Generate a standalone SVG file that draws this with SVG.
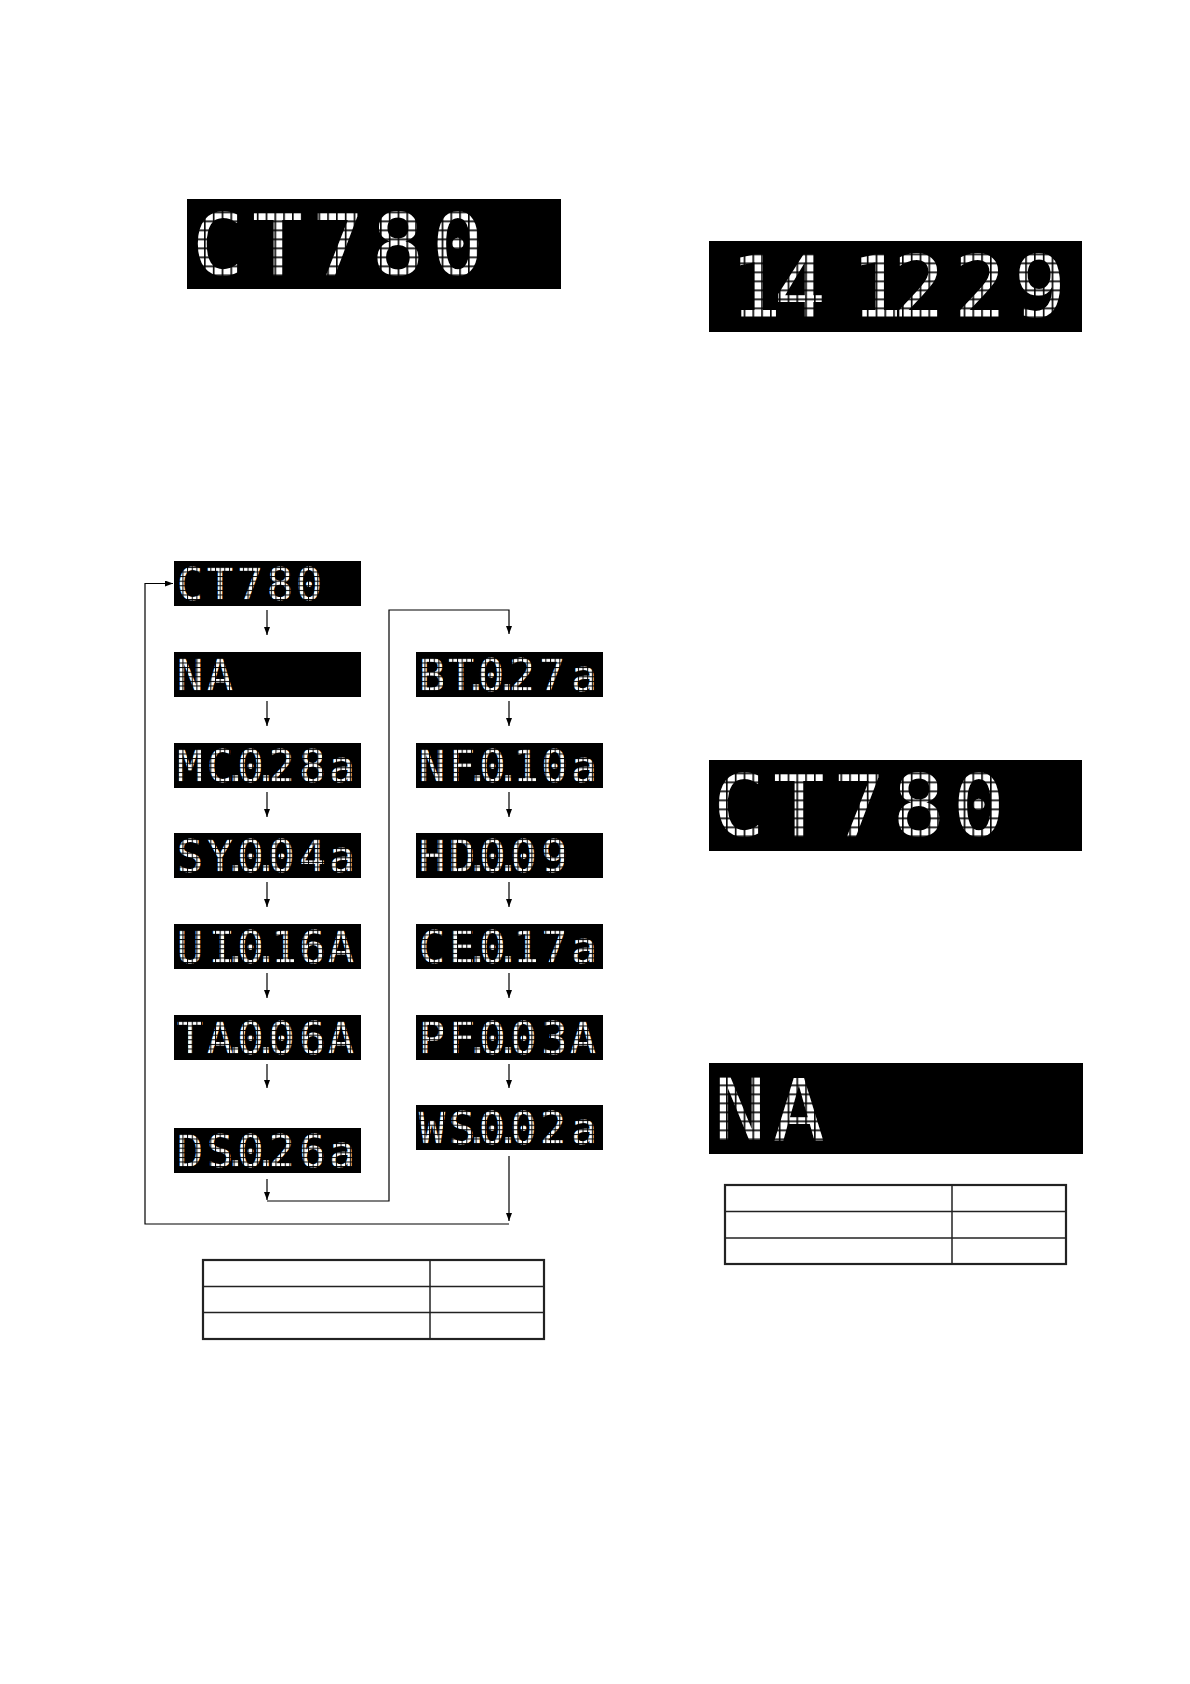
<svg xmlns="http://www.w3.org/2000/svg" width="1190" height="1684" viewBox="0 0 1190 1684">
<style>
.bg{fill:#fff}
.lcd{fill:#000}
.big{font-family:"DejaVu Sans Mono","Liberation Mono",monospace;font-size:86px;fill:#fff;text-anchor:middle}
.sm{font-family:"DejaVu Sans Mono","Liberation Mono",monospace;font-size:44px;fill:#fff;text-anchor:middle}
.conn{fill:none;stroke:#000;stroke-width:1.2}
.tout{fill:none;stroke:#222;stroke-width:2.2}
.tin{stroke:#222;stroke-width:1.5}
</style>
<defs>
<pattern id="dotsBig" patternUnits="userSpaceOnUse" x="8.25" y="3.5" width="8.8" height="9">
<rect x="0" y="0" width="1.6" height="9" fill="#000"/>
<rect x="0" y="0" width="8.8" height="1.6" fill="#000"/>
</pattern>
<pattern id="dotsSm" patternUnits="userSpaceOnUse" x="3.8" y="1.3" width="4.65" height="4.6">
<rect x="0" y="0" width="1" height="4.6" fill="#000"/>
<rect x="0" y="0" width="4.65" height="1" fill="#000"/>
</pattern>
<marker id="ah" markerUnits="userSpaceOnUse" markerWidth="8" markerHeight="6" refX="8" refY="3" orient="auto">
<path d="M0,0 L8,3 L0,6 z" fill="#000"/>
</marker>
</defs>
<rect class="bg" x="0" y="0" width="1190" height="1684"/>

<!-- big displays -->
<g id="display-top-ct780" transform="translate(187,199)">
<rect class="lcd" width="374" height="90"/>
<text class="big" x="31 91 151 211 271" y="76">CT780</text>
<rect width="374" height="90" fill="url(#dotsBig)"/>
</g>
<g id="display-date" transform="translate(709,241)">
<rect class="lcd" width="373" height="91"/>
<text class="big" x="47 91 168 210 271 331" y="76">141229</text>
<rect width="373" height="91" fill="url(#dotsBig)"/>
</g>
<g id="display-right-ct780" transform="translate(709,760)">
<rect class="lcd" width="373" height="91"/>
<text class="big" x="30 90 150 210 270" y="76">CT780</text>
<rect width="373" height="91" fill="url(#dotsBig)"/>
</g>
<g id="display-right-na" transform="translate(709,1063)">
<rect class="lcd" width="374" height="91"/>
<text class="big" x="31 90" y="77">NA</text>
<rect width="374" height="91" fill="url(#dotsBig)"/>
</g>

<!-- flow chart small displays: left column -->
<g id="node-ct780" transform="translate(174,561)">
<rect class="lcd" width="187" height="45"/>
<text class="sm" x="16 46 76 106 135" y="38.5">CT780</text>
<rect width="187" height="45" fill="url(#dotsSm)"/>
</g>
<g id="node-na" transform="translate(174,652)">
<rect class="lcd" width="187" height="45"/>
<text class="sm" x="16 46" y="38.5">NA</text>
<rect width="187" height="45" fill="url(#dotsSm)"/>
</g>
<g id="node-mc" transform="translate(174,743)">
<rect class="lcd" width="187" height="45"/>
<text class="sm" x="16 46 61.5 76.5 92 107.5 138.5 168" y="38.5">MC.0.28a</text>
<rect width="187" height="45" fill="url(#dotsSm)"/>
</g>
<g id="node-sy" transform="translate(174,833)">
<rect class="lcd" width="187" height="45"/>
<text class="sm" x="16 46 61.5 76.5 92 107.5 138.5 168" y="38.5">SY.0.04a</text>
<rect width="187" height="45" fill="url(#dotsSm)"/>
</g>
<g id="node-ui" transform="translate(174,924)">
<rect class="lcd" width="187" height="45"/>
<text class="sm" x="16 48 61.5 76.5 92 110 138.5 167" y="38.5">UI.0.16A</text>
<rect width="187" height="45" fill="url(#dotsSm)"/>
</g>
<g id="node-ta" transform="translate(174,1015)">
<rect class="lcd" width="187" height="45"/>
<text class="sm" x="16 46 61.5 76.5 92 107.5 138.5 167" y="38.5">TA.0.06A</text>
<rect width="187" height="45" fill="url(#dotsSm)"/>
</g>
<g id="node-ds" transform="translate(174,1128)">
<rect class="lcd" width="187" height="45"/>
<text class="sm" x="16 46 61.5 76.5 92 107.5 138.5 168" y="38.5">DS.0.26a</text>
<rect width="187" height="45" fill="url(#dotsSm)"/>
</g>

<!-- right column -->
<g id="node-bt" transform="translate(416,652)">
<rect class="lcd" width="187" height="45"/>
<text class="sm" x="16 45 60 75 91 106 136 168" y="38.5">BT.0.27a</text>
<rect width="187" height="45" fill="url(#dotsSm)"/>
</g>
<g id="node-nf" transform="translate(416,743)">
<rect class="lcd" width="187" height="45"/>
<text class="sm" x="16 46 61.5 76.5 92 110 138.5 168" y="38.5">NF.0.10a</text>
<rect width="187" height="45" fill="url(#dotsSm)"/>
</g>
<g id="node-hd" transform="translate(416,833)">
<rect class="lcd" width="187" height="45"/>
<text class="sm" x="16 46 61.5 76.5 92 107.5 138.5" y="38.5">HD.0.09</text>
<rect width="187" height="45" fill="url(#dotsSm)"/>
</g>
<g id="node-ce" transform="translate(416,924)">
<rect class="lcd" width="187" height="45"/>
<text class="sm" x="16 46 61.5 76.5 92 110 138.5 168" y="38.5">CE.0.17a</text>
<rect width="187" height="45" fill="url(#dotsSm)"/>
</g>
<g id="node-pf" transform="translate(416,1015)">
<rect class="lcd" width="187" height="45"/>
<text class="sm" x="16 46 61.5 76.5 92 107.5 138.5 167" y="38.5">PF.0.03A</text>
<rect width="187" height="45" fill="url(#dotsSm)"/>
</g>
<g id="node-ws" transform="translate(416,1105)">
<rect class="lcd" width="187" height="45"/>
<text class="sm" x="16 46 61 76 92 107.5 137 168" y="38.5">WS.0.02a</text>
<rect width="187" height="45" fill="url(#dotsSm)"/>
</g>

<!-- connectors -->
<g id="connectors" class="conn">
<path d="M267,610 V635" marker-end="url(#ah)"/>
<path d="M267,701 V726" marker-end="url(#ah)"/>
<path d="M267,792 V817" marker-end="url(#ah)"/>
<path d="M267,882 V907" marker-end="url(#ah)"/>
<path d="M267,973 V998" marker-end="url(#ah)"/>
<path d="M267,1064 V1088" marker-end="url(#ah)"/>
<path d="M509,701 V726" marker-end="url(#ah)"/>
<path d="M509,792 V817" marker-end="url(#ah)"/>
<path d="M509,882 V907" marker-end="url(#ah)"/>
<path d="M509,973 V998" marker-end="url(#ah)"/>
<path d="M509,1064 V1088" marker-end="url(#ah)"/>
<path d="M267,1179 V1200" marker-end="url(#ah)"/>
<path d="M267,1201 H389 V610 H509 V634" marker-end="url(#ah)"/>
<path d="M509,1156 V1221" marker-end="url(#ah)"/>
<path d="M509,1224 H145 V583.5 H173" marker-end="url(#ah)"/>
</g>

<!-- tables -->
<g id="table-left">
<rect class="tout" x="203" y="1260" width="341" height="79"/>
<line class="tin" x1="430" y1="1260" x2="430" y2="1339"/>
<line class="tin" x1="203" y1="1286.5" x2="544" y2="1286.5"/>
<line class="tin" x1="203" y1="1312.5" x2="544" y2="1312.5"/>
</g>
<g id="table-right">
<rect class="tout" x="725" y="1185" width="341" height="79"/>
<line class="tin" x1="952" y1="1185" x2="952" y2="1264"/>
<line class="tin" x1="725" y1="1211.5" x2="1066" y2="1211.5"/>
<line class="tin" x1="725" y1="1238" x2="1066" y2="1238"/>
</g>
</svg>
